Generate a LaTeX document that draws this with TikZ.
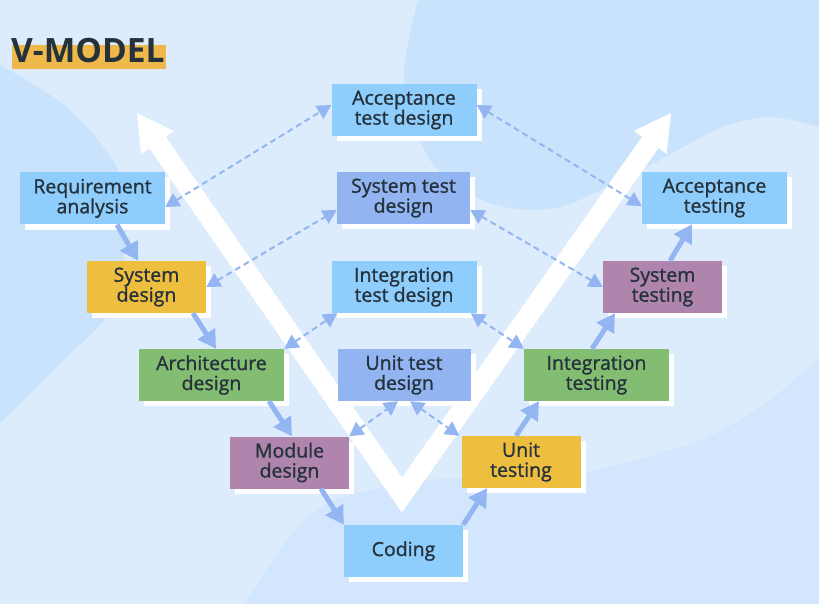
\documentclass[tikz,border=0pt]{standalone}
\usepackage{fontspec}
\setmainfont{Open Sans}
\newfontfamily\stagefont[FakeBold=1.2]{Open Sans}
\usetikzlibrary{arrows.meta,shadows}

\definecolor{bgbase}{HTML}{DCECFC}
\definecolor{bgdeep}{HTML}{CAE3FC}
\definecolor{bgmid}{HTML}{D2E7FD}
\definecolor{ink}{HTML}{25323C}
\definecolor{skyfill}{HTML}{8ECDFC}
\definecolor{periwinkle}{HTML}{92B5F1}
\definecolor{mustard}{HTML}{EEBE3F}
\definecolor{leaf}{HTML}{83BD72}
\definecolor{mauve}{HTML}{B085AD}
\definecolor{linkblue}{HTML}{93B5F1}
\definecolor{highlight}{HTML}{EFB84A}

\begin{document}
\begin{tikzpicture}[x=1pt,y=-1pt,
  stage/.style={minimum height=52pt, inner sep=0pt, align=center, text=ink,
    font=\stagefont\fontsize{19.5pt}{20pt}\selectfont,
    drop shadow={fill=white, opacity=1, shadow xshift=5pt, shadow yshift=-5pt}},
  wide/.style={minimum width=145pt},
  narrow/.style={minimum width=119pt},
  medium/.style={minimum width=133pt},
  flow/.style={draw=linkblue, line width=5pt, -{Triangle[length=18pt,width=20pt]}},
  trace/.style={draw=linkblue, line width=2pt, dash pattern=on 6pt off 4pt,
    {Triangle[length=14pt,width=15pt]}-{Triangle[length=14pt,width=15pt]}}
]
% canvas and soft background shapes
\useasboundingbox (0,0) rectangle (819,604);
\fill[bgbase] (0,0) rectangle (819,604);
\fill[bgdeep] plot[smooth] coordinates {(0,65) (68,108) (118,170) (126,240) (108,313) (67,357) (0,423)} -- cycle;
\fill[bgdeep] plot[smooth] coordinates {(418,0) (404,80) (430,160) (490,203) (560,207) (650,165) (720,128) (770,117) (819,127)} -- (819,0) -- cycle;
\fill[bgmid] plot[smooth] coordinates {(245,604) (313,512) (418,481) (574,474) (700,440) (770,400) (819,357)} -- (819,604) -- cycle;

% title
\fill[highlight] (12,45) rectangle (166,69);
\node[anchor=base west, inner sep=0pt, text=ink, font=\fontsize{33.5pt}{34pt}\selectfont\bfseries] (title) at (11,63) {V-MODEL};

% the big white V
\coordinate (vapex) at (402,495);
\coordinate (ltip) at (137,113);
\coordinate (lbase) at (157.5,142.6);
\coordinate (lbarbA) at (173.9,131.2);
\coordinate (lbarbB) at (141.1,154.0);
\coordinate (rtip) at (671,113);
\coordinate (rbase) at (650.3,142.4);
\coordinate (rbarbA) at (666.7,153.9);
\coordinate (rbarbB) at (633.9,130.9);
\draw[white, line width=20pt, line join=miter] (lbase) -- (vapex) -- (rbase);
\fill[white] (ltip) -- (lbarbA) -- (lbarbB) -- cycle;
\fill[white] (rtip) -- (rbarbA) -- (rbarbB) -- cycle;

% stages
\node[stage, wide,   fill=skyfill]    (req)    at (92.5,198.5) {Requirement\\analysis};
\node[stage, narrow, fill=mustard]    (sysd)   at (146.5,287)  {System\\design};
\node[stage, wide,   fill=leaf]       (arch)   at (211.5,375)  {Architecture\\design};
\node[stage, narrow, fill=mauve]      (mod)    at (289.5,462.5){Module\\design};
\node[stage, narrow, fill=skyfill]    (cod)    at (403.5,551)  {Coding};
\node[stage, narrow, fill=mustard]    (unitt)  at (521,462)    {Unit\\testing};
\node[stage, wide,   fill=leaf]       (intt)   at (596.5,375)  {Integration\\testing};
\node[stage, narrow, fill=mauve]      (syst)   at (662.5,287)  {System\\testing};
\node[stage, wide,   fill=skyfill]    (acct)   at (714.5,198)  {Acceptance\\testing};
\node[stage, wide,   fill=skyfill]    (acctd)  at (404,110)    {Acceptance\\test design};
\node[stage, medium, fill=periwinkle] (systd)  at (403.5,198)  {System test\\design};
\node[stage, wide,   fill=skyfill]    (inttd)  at (404,287)    {Integration\\test design};
\node[stage, medium, fill=periwinkle] (unittd) at (404,375)    {Unit test\\design};

% verification links
\draw[trace] ([yshift=-8.5pt]req.east) -- ([yshift=5pt]acctd.west);
\draw[trace] ([yshift=5pt]acctd.east) -- ([yshift=-8pt]acct.west);
\draw[trace] (sysd.east) -- ([yshift=-12pt]systd.west);
\draw[trace] ([yshift=-12pt]systd.east) -- (syst.west);
\draw[trace] (arch.north east) -- ([xshift=6pt]inttd.south west);
\draw[trace] ([xshift=-6pt]inttd.south east) -- (intt.north west);
\draw[trace] (mod.north east) -- ([xshift=-6pt]unittd.south);
\draw[trace] ([xshift=6pt]unittd.south) -- ([xshift=-2pt]unitt.north west);

% development flow
\draw[flow] ([xshift=24.5pt]req.south) -- ([xshift=-8.5pt]sysd.north);
\draw[flow] ([xshift=46.5pt]sysd.south) -- ([xshift=4.5pt]arch.north);
\draw[flow] ([xshift=57.5pt]arch.south) -- ([xshift=2.5pt]mod.north);
\draw[flow] ([xshift=31.5pt]mod.south) -- (cod.north west);
\draw[flow] (cod.north east) -- ([xshift=-34pt]unitt.south);
\draw[flow] ([xshift=-5pt]unitt.north) -- ([xshift=-57.5pt]intt.south);
\draw[flow] ([xshift=-4.5pt]intt.north) -- ([xshift=-47.5pt]syst.south);
\draw[flow] ([xshift=7.5pt]syst.north) -- ([xshift=-22.5pt]acct.south);
\end{tikzpicture}
\end{document}
